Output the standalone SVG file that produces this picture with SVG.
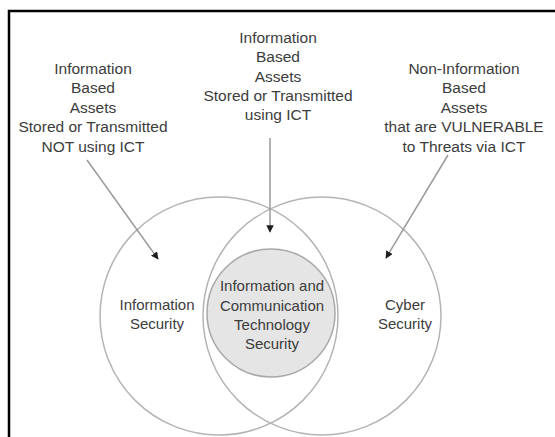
<svg xmlns="http://www.w3.org/2000/svg" width="555" height="437" viewBox="0 0 555 437">
<style>
.t{font-family:"Liberation Sans",Arial,sans-serif;font-size:15.5px;fill:#3c3c3c;text-anchor:middle}
.s{font-size:15px}
.c{fill:none;stroke:#b4b4b4;stroke-width:1.5}
.a{stroke:#9a9a9a;stroke-width:1.5;fill:none}
</style>
<defs>
<marker id="ah" viewBox="0 0 10 10" refX="9" refY="5" markerWidth="5" markerHeight="5" orient="auto" markerUnits="strokeWidth">
<path d="M0,0 L10,5 L0,10 z" fill="#1e1e1e"/>
</marker>
</defs>
<rect width="555" height="437" fill="#fff"/>
<path d="M9,437 V11 H555" fill="none" stroke="#000" stroke-width="2.5"/>
<g id="info-security">
<circle class="c" cx="219" cy="316" r="119"/>
<text class="t s" x="157" y="310">Information</text>
<text class="t s" x="157" y="329">Security</text>
</g>
<g id="cyber-security">
<circle class="c" cx="322" cy="316" r="119"/>
<text class="t s" x="405" y="310">Cyber</text>
<text class="t s" x="405" y="329">Security</text>
</g>
<g id="ict-security">
<circle cx="271" cy="313" r="64" fill="#e5e5e5" stroke="#a8a8a8" stroke-width="1.5"/>
<text class="t s" x="272" y="291">Information and</text>
<text class="t s" x="272" y="311">Communication</text>
<text class="t s" x="272" y="330">Technology</text>
<text class="t s" x="272" y="349">Security</text>
</g>
<g id="label-left">
<text class="t" x="93" y="74">Information</text>
<text class="t" x="93" y="93">Based</text>
<text class="t" x="93" y="113">Assets</text>
<text class="t" x="93" y="132">Stored or Transmitted</text>
<text class="t" x="93" y="152">NOT using ICT</text>
</g>
<g id="label-middle">
<text class="t" x="278" y="43">Information</text>
<text class="t" x="278" y="62">Based</text>
<text class="t" x="278" y="82">Assets</text>
<text class="t" x="278" y="101">Stored or Transmitted</text>
<text class="t" x="278" y="120">using ICT</text>
</g>
<g id="label-right">
<text class="t" x="464" y="74">Non-Information</text>
<text class="t" x="464" y="93">Based</text>
<text class="t" x="464" y="113">Assets</text>
<text class="t" x="464" y="132">that are VULNERABLE</text>
<text class="t" x="464" y="152">to Threats via ICT</text>
</g>
<g id="connectors">
<line class="a" x1="87" y1="160" x2="158" y2="259" marker-end="url(#ah)"/>
<line class="a" x1="270" y1="138" x2="270" y2="232" marker-end="url(#ah)"/>
<line class="a" x1="448" y1="155" x2="386" y2="258" marker-end="url(#ah)"/>
</g>
</svg>
